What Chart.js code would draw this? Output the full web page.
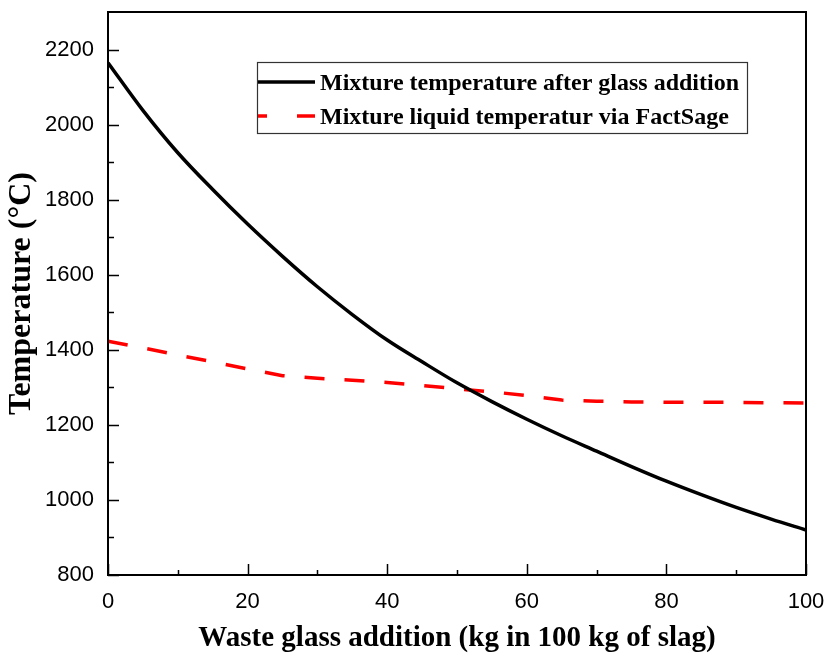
<!DOCTYPE html>
<html>
<head>
<meta charset="utf-8">
<script src="https://cdn.jsdelivr.net/npm/chart.js@4/dist/chart.umd.min.js"></script>
<style>
  html,body{margin:0;padding:0;background:#fff}
  #wrap{width:827px;height:657px;position:relative}
</style>
</head>
<body>
<div id="wrap"><canvas id="myChart" width="827" height="657"></canvas></div>
<script>
// waste glass addition (kg in 100 kg of slag)
const glassAdd=[0,5,10,15,20,25,30,35,40,45,50,55,60,65,70,75,80,85,90,95,100]
// mixture temperature after glass addition
const mixTemp=[2165,2038,1925,1827,1735,1649,1568,1494,1426,1368,1312,1262,1215,1171,1130,1089,1050,1014,980,949,920]
// mixture liquid temperature via FactSage
const liqTemp=[1423,1405,1386,1368,1349,1331,1324,1319,1313,1305,1296,1288,1278,1266,1263,1261,1260,1260,1260,1259,1258]

const xTicks=[0,20,40,60,80,100]
const xMinor=[10,30,50,70,90]
const yTicks=[800,1000,1200,1400,1600,1800,2000,2200]
const yMinor=[900,1100,1300,1500,1700,1900,2100]

const serif='"Liberation Serif", "Times New Roman", serif'
const sans='"Liberation Sans", Arial, sans-serif'

const toPts=(xs,ys)=>xs.map((x,i)=>({x:x,y:ys[i]}))

// frame + inward ticks
const framePlugin={
  id:'frame',
  afterDraw(chart){
    const ctx=chart.ctx
    const a=chart.chartArea
    const sx=chart.scales.x, sy=chart.scales.y
    ctx.save()
    ctx.strokeStyle='#000'
    ctx.lineWidth=2
    ctx.strokeRect(a.left,a.top,a.right-a.left,a.bottom-a.top)
    ctx.lineWidth=1.5
    ctx.beginPath()
    for(const v of yTicks){const p=Math.round(sy.getPixelForValue(v))+0.5;ctx.moveTo(a.left,p);ctx.lineTo(a.left+11,p)}
    for(const v of yMinor){const p=Math.round(sy.getPixelForValue(v))+0.5;ctx.moveTo(a.left,p);ctx.lineTo(a.left+6,p)}
    for(const v of xTicks){const p=Math.round(sx.getPixelForValue(v))+0.5;ctx.moveTo(p,a.bottom);ctx.lineTo(p,a.bottom-11)}
    for(const v of xMinor){const p=Math.round(sx.getPixelForValue(v))+0.5;ctx.moveTo(p,a.bottom);ctx.lineTo(p,a.bottom-5)}
    ctx.stroke()
    ctx.restore()
  }
}

// legend box inside the plot
const legendBox={
  id:'legendBox',
  afterDraw(chart){
    const ctx=chart.ctx
    const ds=chart.data.datasets
    ctx.save()
    ctx.fillStyle='#fff'
    ctx.fillRect(257,62,490,71)
    ctx.strokeStyle='#333'
    ctx.lineWidth=1.2
    ctx.strokeRect(257.5,62.5,490,71)
    const rows=[{y:82,base:90},{y:116,base:124}]
    ds.forEach((d,i)=>{
      const r=rows[i]
      ctx.strokeStyle=d.borderColor
      ctx.lineWidth=3.5
      if(d.borderDash){ctx.setLineDash([18,30]);ctx.lineDashOffset=9}else{ctx.setLineDash([])}
      ctx.beginPath();ctx.moveTo(258,r.y);ctx.lineTo(315,r.y);ctx.stroke()
      ctx.setLineDash([])
      ctx.fillStyle='#000'
      ctx.font='bold 24px '+serif
      ctx.textBaseline='alphabetic'
      ctx.fillText(d.label,320,r.base)
    })
    ctx.restore()
  }
}

const ctx=document.getElementById('myChart').getContext('2d')
const myChart=new Chart(ctx,{
  type:'line',
  data:{
    datasets:[{
      label:'Mixture temperature after glass addition',
      data:toPts(glassAdd,mixTemp),
      borderColor:'#000',
      borderWidth:3.5,
      pointRadius:0,
      cubicInterpolationMode:'monotone',
      fill:false
    },{
      label:'Mixture liquid temperatur via FactSage',
      data:toPts(glassAdd,liqTemp),
      borderColor:'#ff0000',
      borderWidth:3.5,
      borderDash:[20,20],
      pointRadius:0,
      tension:0,
      fill:false
    }]
  },
  options:{
    responsive:false,
    animation:false,
    layout:{padding:{top:12,right:21,left:0,bottom:0}},
    plugins:{legend:{display:false},tooltip:{enabled:false}},
    scales:{
      x:{
        type:'linear',min:0,max:100,
        afterBuildTicks:s=>{s.ticks=xTicks.map(v=>({value:v}))},
        afterFit:s=>{s.height=82;s.paddingLeft=0;s.paddingRight=0},
        grid:{display:false,drawTicks:false},
        border:{display:false},
        ticks:{padding:14,color:'#000',font:{family:sans,size:22},maxRotation:0,callback:v=>String(v)},
        title:{display:true,text:'Waste glass addition (kg in 100 kg of slag)',color:'#000',
          font:{family:serif,size:29,weight:'bold'},padding:{top:8,bottom:1}}
      },
      y:{
        type:'linear',min:800,max:2300,
        afterBuildTicks:s=>{s.ticks=yTicks.map(v=>({value:v}))},
        afterFit:s=>{s.width=108;s.paddingTop=0;s.paddingBottom=0},
        grid:{display:false,drawTicks:false},
        border:{display:false},
        ticks:{padding:14,color:'#000',font:{family:sans,size:22},callback:v=>String(v)},
        title:{display:true,text:'Temperature (°C)',color:'#000',
          font:{family:serif,size:32,weight:'bold'},padding:{top:3,bottom:0}}
      }
    }
  },
  plugins:[framePlugin,legendBox]
})
</script>
</body>
</html>
